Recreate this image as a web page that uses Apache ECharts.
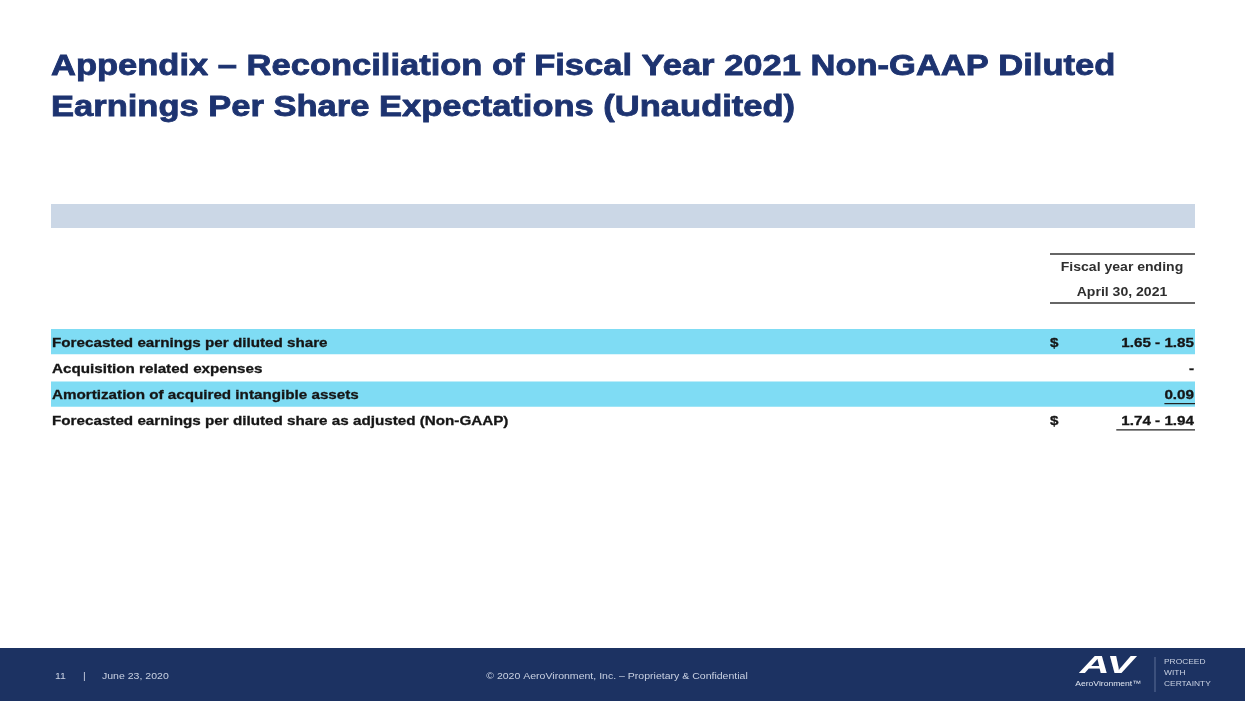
<!DOCTYPE html>
<html>
<head>
<meta charset="utf-8">
<script src="https://cdn.jsdelivr.net/npm/echarts@6/dist/echarts.min.js"></script>
<style>
  html, body { margin: 0; padding: 0; background: #fff; }
  #main { width: 1245px; height: 701px; }
</style>
</head>
<body>
<div id="main"></div>
<script>
// table content
const rowLabels = [
  "Forecasted earnings per diluted share",
  "Acquisition related expenses",
  "Amortization of acquired intangible assets",
  "Forecasted earnings per diluted share as adjusted (Non-GAAP)"
];
const rowCurrency = ["$", "", "", "$"];
const rowValues = ["1.65 - 1.85", "-", "0.09", "1.74 - 1.94"];
const rowHighlight = [true, false, true, false];
const rowUnderline = [false, false, true, true];
const columnHeader = ["Fiscal year ending", "April 30, 2021"];

const titleLines = [
  "Appendix \u2013 Reconciliation of Fiscal Year 2021 Non-GAAP Diluted",
  "Earnings Per Share Expectations (Unaudited)"
];
const footerPage = "11";
const footerDate = "June 23, 2020";
const footerCenter = "\u00a9 2020 AeroVironment, Inc. \u2013 Proprietary & Confidential";

const FONT = "'Liberation Sans', Arial, sans-serif";
const NAVY = "#1d3370";
const SX = 1.17; // slide text is a little wider than plain Arial

// measure text width for the underlines
const measureCtx = document.createElement("canvas").getContext("2d");
function textWidth(str, font) {
  measureCtx.font = font;
  return measureCtx.measureText(str).width;
}

// text helper, stretched horizontally around its anchor; optional outline to thicken
function txt(text, x, y, font, fill, align, sx, thick) {
  const style = { text: text, x: 0, y: 0, font: font, fill: fill, align: align || "left", verticalAlign: "middle" };
  if (thick) {
    style.stroke = fill;
    style.lineWidth = thick;
  }
  return { type: "text", x: x, y: y, scaleX: sx || SX, style: style };
}

const chart = echarts.init(document.getElementById("main"));

function renderRow(params, api) {
  const i = api.value(1);
  const pt = api.coord([0, i]);
  const h = api.size([0, 1])[1];
  const x0 = params.coordSys.x;
  const w = params.coordSys.width;
  const cy = pt[1];
  const font = "bold 13px " + FONT;
  const children = [];
  if (rowHighlight[i]) {
    children.push({
      type: "rect",
      shape: { x: x0, y: cy - h / 2, width: w, height: h - 1 },
      style: { fill: "#7fdcf4" }
    });
  }
  children.push(txt(rowLabels[i], x0 + 1, cy + 1, font, "#151515", "left", SX, 0.3));
  if (rowCurrency[i]) {
    children.push(txt(rowCurrency[i], x0 + w - 145, cy + 1, font, "#151515", "left", SX, 0.3));
  }
  children.push(txt(rowValues[i], x0 + w - 1, cy + 1, font, "#151515", "right", SX, 0.3));
  if (rowUnderline[i]) {
    const tw = textWidth(rowValues[i], font) * SX + (i === 3 ? 6 : 1);
    children.push({
      type: "line",
      shape: { x1: x0 + w - tw, y1: cy + 9, x2: x0 + w, y2: cy + 9 },
      style: { stroke: "#222", lineWidth: 1.2 }
    });
  }
  return { type: "group", children: children };
}

const titleFont = "bold 29px " + FONT;

const option = {
  backgroundColor: "#ffffff",
  animation: false,
  grid: { left: 51, right: 50, top: 329, bottom: 267 },
  xAxis: { type: "value", min: 0, max: 1, show: false },
  yAxis: { type: "category", inverse: true, data: rowLabels, show: false },
  series: [{
    type: "custom",
    renderItem: renderRow,
    data: rowLabels.map((_, i) => [0, i]),
    silent: true
  }],
  graphic: [
    // title
    txt(titleLines[0], 51, 67, titleFont, NAVY, "left", 1.19, 0.8),
    txt(titleLines[1], 51, 108, titleFont, NAVY, "left", 1.19, 0.8),
    // grey banner
    { type: "rect", shape: { x: 51, y: 204, width: 1144, height: 24 }, style: { fill: "#cbd7e6" } },
    // column header
    { type: "line", shape: { x1: 1050, y1: 254, x2: 1195, y2: 254 }, style: { stroke: "#333", lineWidth: 1.3 } },
    txt(columnHeader[0], 1122, 268, "bold 12px " + FONT, "#2e2e2e", "center"),
    txt(columnHeader[1], 1122, 293, "bold 12px " + FONT, "#2e2e2e", "center"),
    { type: "line", shape: { x1: 1050, y1: 303, x2: 1195, y2: 303 }, style: { stroke: "#333", lineWidth: 1.3 } },
    // footer
    { type: "rect", shape: { x: 0, y: 648, width: 1245, height: 53 }, style: { fill: "#1c3262" } },
    txt(footerPage, 55, 677, "9px " + FONT, "#c9d1e2", "left"),
    txt("|", 83, 677, "9px " + FONT, "#c9d1e2", "left"),
    txt(footerDate, 102, 677, "9px " + FONT, "#c9d1e2", "left"),
    txt(footerCenter, 617, 677, "9px " + FONT, "#c9d1e2", "center"),
    txt("AV", 1107, 667, "italic 900 23px " + FONT, "#ffffff", "center", 1.8),
    txt("AeroVironment\u2122", 1108, 684, "8px " + FONT, "#dfe5f0", "center", 1.07),
    { type: "line", shape: { x1: 1155, y1: 657, x2: 1155, y2: 692 }, style: { stroke: "#5d6f96", lineWidth: 1 } },
    txt("PROCEED", 1164, 662, "7px " + FONT, "#c9d1e2", "left", 1.2),
    txt("WITH", 1164, 673, "7px " + FONT, "#c9d1e2", "left", 1.2),
    txt("CERTAINTY", 1164, 684, "7px " + FONT, "#c9d1e2", "left", 1.2)
  ]
};

chart.setOption(option);
</script>
</body>
</html>
